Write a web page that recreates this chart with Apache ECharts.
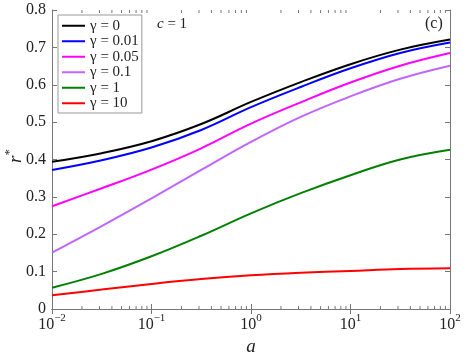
<!DOCTYPE html>
<html>
  <head>
    <meta charset="utf-8" />
    <title>r* vs a</title>
    <script src="https://cdn.jsdelivr.net/npm/echarts@6/dist/echarts.min.js"></script>
  </head>
  <body style="margin: 0">
    <div id="main" style="width: 469px; height: 352px"></div>
    <script type="text/javascript">
      // a values (log spaced, half decades)
      var aVals = [0.01, 0.0316, 0.1, 0.316, 1, 3.16, 10, 31.6, 100];
      // r* for each gamma
      var g0 = [0.394, 0.417, 0.449, 0.495, 0.554, 0.607, 0.655, 0.694, 0.721];
      var g001 = [0.372, 0.398, 0.432, 0.479, 0.540, 0.594, 0.644, 0.685, 0.713];
      var g005 = [0.275, 0.323, 0.373, 0.430, 0.496, 0.553, 0.606, 0.651, 0.685];
      var g01 = [0.151, 0.222, 0.296, 0.372, 0.447, 0.514, 0.569, 0.616, 0.651];
      var g1 = [0.057, 0.094, 0.141, 0.196, 0.256, 0.310, 0.358, 0.400, 0.426];
      var g10 = [0.037, 0.052, 0.067, 0.080, 0.090, 0.097, 0.102, 0.107, 0.109];
      var names = ["γ = 0", "γ = 0.01", "γ = 0.05", "γ = 0.1", "γ = 1", "γ = 10"];
      var colors = ["#000000", "#0000ff", "#ff00ff", "#bf66ff", "#008000", "#ff0000"];
      var minorTicks = [];
      [0.01, 0.1, 1, 10].forEach(function (d) {
        for (var k = 2; k <= 9; k++) minorTicks.push([k * d]);
      });

      var font = "'Liberation Serif', 'DejaVu Serif', serif";
      var allSeries = [g0, g001, g005, g01, g1, g10];

      var series = allSeries.map(function (vals, i) {
        return {
          name: names[i],
          type: "line",
          smooth: 0.4,
          symbol: "none",
          lineStyle: { width: 2, color: colors[i] },
          itemStyle: { color: colors[i] },
          data: aVals.map(function (a, j) { return [a, vals[j]]; }),
          z: 3,
        };
      });

      // minor ticks on the log axis (bottom and top)
      series.push({
        type: "custom",
        silent: true,
        clip: false,
        z: 5,
        data: minorTicks,
        renderItem: function (params, api) {
          var b = api.coord([api.value(0), 0]);
          var t = api.coord([api.value(0), 0.8]);
          var st = { stroke: "#777", lineWidth: 1 };
          return {
            type: "group",
            children: [
              { type: "line", shape: { x1: b[0], y1: b[1], x2: b[0], y2: b[1] - 3 }, style: st },
              { type: "line", shape: { x1: t[0], y1: t[1], x2: t[0], y2: t[1] + 3 }, style: st },
            ],
          };
        },
      });

      var myChart = echarts.init(document.getElementById("main"));

      var logLabel = function (v) {
        var e = Math.round(Math.log10(v));
        return "{b|10}{e|" + (e < 0 ? "\u2212" + -e : e) + "}";
      };

      var option = {
        animation: false,
        textStyle: { fontFamily: font },
        grid: { left: 52, right: 19, top: 10, bottom: 43, outerBoundsMode: "none" },
        legend: {
          data: names,
          orient: "vertical",
          left: 58,
          top: 15,
          icon: "rect",
          itemWidth: 23,
          itemHeight: 2,
          itemGap: 0,
          padding: [3, 3, 2, 4],
          borderColor: "#999",
          borderWidth: 1,
          backgroundColor: "#fff",
          textStyle: { fontFamily: font, fontSize: 15, lineHeight: 15.5, color: "#222" },
        },
        xAxis: [
          {
            type: "log",
            logBase: 10,
            min: 0.01,
            max: 100,
            name: "a",
            nameLocation: "middle",
            nameGap: 27,
            nameTextStyle: { fontFamily: font, fontStyle: "italic", fontSize: 19, color: "#222" },
            axisLine: { lineStyle: { color: "#777" } },
            axisTick: { inside: true, length: 5, lineStyle: { color: "#777" } },
            splitLine: { show: false },
            axisLabel: {
              margin: 4,
              color: "#222",
              formatter: logLabel,
              rich: {
                b: { fontFamily: font, fontSize: 16, color: "#222", lineHeight: 20, verticalAlign: "bottom" },
                e: { fontFamily: font, fontSize: 11, color: "#222", lineHeight: 20, verticalAlign: "top" },
              },
            },
          },
          {
            type: "log",
            logBase: 10,
            min: 0.01,
            max: 100,
            position: "top",
            axisLine: { lineStyle: { color: "#777" } },
            axisTick: { inside: true, length: 5, lineStyle: { color: "#777" } },
            axisLabel: { show: false },
            splitLine: { show: false },
          },
        ],
        yAxis: [
          {
            type: "value",
            min: 0,
            max: 0.8,
            interval: 0.1,
            axisLine: { show: true, lineStyle: { color: "#777" } },
            axisTick: { show: true, inside: true, length: 5, lineStyle: { color: "#777" } },
            splitLine: { show: false },
            axisLabel: { margin: 6, fontFamily: font, fontSize: 16, color: "#222" },
          },
          {
            type: "value",
            min: 0,
            max: 0.8,
            interval: 0.1,
            position: "right",
            axisLine: { show: true, lineStyle: { color: "#777" } },
            axisTick: { show: true, inside: true, length: 5, lineStyle: { color: "#777" } },
            axisLabel: { show: false },
            splitLine: { show: false },
          },
        ],
        graphic: [
          {
            type: "text",
            x: 14,
            y: 156,
            rotation: Math.PI / 2,
            style: {
              text: "{r|r}{s|*}",
              align: "center",
              verticalAlign: "middle",
              rich: {
                r: { fontFamily: font, fontStyle: "italic", fontSize: 19, fill: "#222", lineHeight: 22, verticalAlign: "bottom" },
                s: { fontFamily: font, fontSize: 13, fill: "#222", lineHeight: 22, verticalAlign: "top" },
              },
            },
          },
          {
            type: "text",
            left: 157,
            top: 17,
            style: {
              text: "{i|c} = 1",
              fontFamily: font,
              fontSize: 15,
              fill: "#222",
              rich: { i: { fontFamily: font, fontSize: 15, fontStyle: "italic", fill: "#222" } },
            },
          },
          {
            type: "text",
            left: 425,
            top: 16,
            style: { text: "(c)", fontFamily: font, fontSize: 16, fill: "#222" },
          },
        ],
        series: series,
      };

      myChart.setOption(option);
    </script>
  </body>
</html>
